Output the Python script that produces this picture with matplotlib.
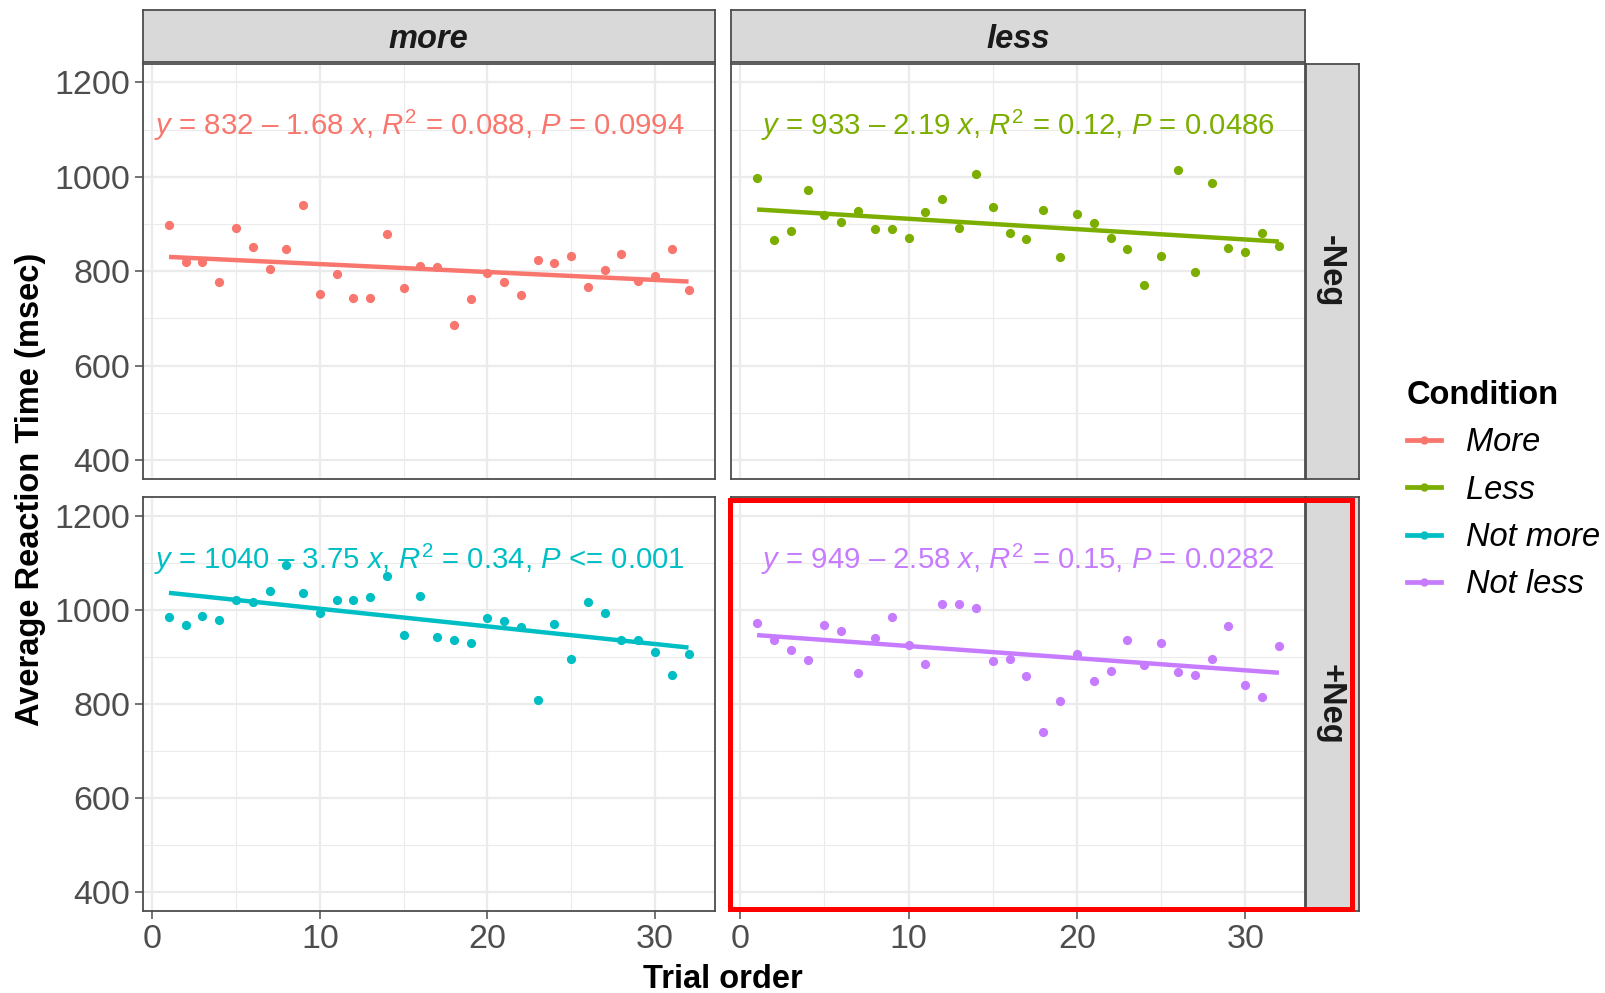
import numpy as np
import matplotlib
matplotlib.use("Agg")
import matplotlib.pyplot as plt
import matplotlib.transforms as mtransforms
from matplotlib.lines import Line2D
from matplotlib.patches import Rectangle

plt.rcParams['font.family'] = ['Liberation Sans', 'DejaVu Sans']
plt.rcParams['mathtext.fontset'] = 'custom'
plt.rcParams['mathtext.rm'] = 'Liberation Sans'
plt.rcParams['mathtext.it'] = 'Liberation Sans:italic'

# ---------------- data ----------------
trials = list(range(1, 33))
conditions = ["More", "Less", "Not more", "Not less"]
col_labels = ["more", "less"]
row_labels = ["-Neg", "+Neg"]
colors = ["#F8766D", "#7CAE00", "#00BFC4", "#C77CFF"]

rt_more = [897, 819, 819, 777, 892, 851, 805, 848, 940, 752, 794, 744, 744, 878, 764, 812,
           810, 687, 741, 796, 778, 749, 824, 817, 833, 766, 803, 837, 780, 790, 848, 761]
rt_less = [997, 866, 885, 973, 919, 904, 927, 889, 889, 870, 925, 952, 891, 1006, 937, 880,
           869, 929, 831, 922, 903, 871, 848, 770, 833, 1015, 799, 987, 850, 841, 882, 854]
rt_not_more = [984, 968, 986, 978, 1021, 1016, 1040, 1095, 1036, 993, 1022, 1022, 1027, 1072, 947, 1029,
               942, 937, 929, 982, 976, 963, 809, 970, 895, 1017, 994, 937, 937, 910, 861, 907]
rt_not_less = [972, 935, 914, 894, 968, 955, 865, 941, 985, 925, 886, 1012, 1013, 1005, 891, 895,
               860, 740, 806, 907, 849, 870, 937, 883, 930, 869, 862, 895, 966, 841, 815, 924]
series = [rt_more, rt_less, rt_not_more, rt_not_less]

intercepts = [832, 933, 1040, 949]
slopes = [-1.68, -2.19, -3.75, -2.58]
labels = [r"$y$ = 832 – 1.68 $x$, $R^2$ = 0.088, $P$ = 0.0994",
          r"$y$ = 933 – 2.19 $x$, $R^2$ = 0.12, $P$ = 0.0486",
          r"$y$ = 1040 – 3.75 $x$, $R^2$ = 0.34, $P$ <= 0.001",
          r"$y$ = 949 – 2.58 $x$, $R^2$ = 0.15, $P$ = 0.0282"]

x_ticks = [0, 10, 20, 30]
y_ticks = [400, 600, 800, 1000, 1200]

# ---------------- layout ----------------
W, H = 1605, 993
fig = plt.figure(figsize=(W / 100, H / 100), dpi=100)

def fx(px):
    return px / W

def fy(py):
    return 1 - py / H

col_x = [(143, 714.5), (731, 1305)]
row_y = [(63.5, 479), (497, 911)]

border_c = "#4D4D4D"
grid_c = "#EBEBEB"
tick_c = "#4D4D4D"
FS = 23.5

axes = []
for r in range(2):
    for c in range(2):
        k = r * 2 + c
        x0, x1 = col_x[c]
        y0, y1 = row_y[r]
        ax = fig.add_axes([fx(x0), fy(y1), fx(x1) - fx(x0), fy(y0) - fy(y1)])
        ax.set_xlim(-0.55, 33.55)
        ax.set_ylim(360, 1240)
        ax.set_xticks(x_ticks)
        ax.set_xticks([5, 15, 25], minor=True)
        ax.set_yticks(y_ticks)
        ax.set_yticks([500, 700, 900, 1100], minor=True)
        ax.grid(True, which="major", color=grid_c, lw=1.6, zorder=0)
        ax.grid(True, which="minor", color=grid_c, lw=0.8, zorder=0)
        ax.set_axisbelow(True)
        for s in ax.spines.values():
            s.set_color(border_c)
            s.set_linewidth(1.3)
        ax.tick_params(which="minor", length=0)
        ax.tick_params(which="major", length=6, width=1.1, color=tick_c,
                       labelsize=24.5, labelcolor=tick_c, pad=3)
        if c == 1:
            ax.tick_params(axis="y", labelleft=False, length=0)
        if r == 0:
            ax.tick_params(axis="x", labelbottom=False, length=0)

        xs = np.array(trials)
        ax.scatter(xs, series[k], s=44, color=colors[k], zorder=3, linewidths=0)
        xl = np.array([trials[0], trials[-1]])
        ax.plot(xl, intercepts[k] + slopes[k] * xl, color=colors[k], lw=3.2,
                zorder=4, solid_capstyle="butt")
        trans = mtransforms.blended_transform_factory(ax.transAxes, ax.transData)
        ax.text(0.484 if c == 0 else 0.5, 1108, labels[k], color=colors[k],
                fontsize=21.2, ha="center", va="center", transform=trans, zorder=5)
        axes.append(ax)

# column strips
for c in range(2):
    x0, x1 = col_x[c]
    sax = fig.add_axes([fx(x0), fy(61.5), fx(x1) - fx(x0), fy(10) - fy(61.5)])
    sax.set_facecolor("#D9D9D9")
    sax.set_xticks([]); sax.set_yticks([])
    for s in sax.spines.values():
        s.set_color(border_c); s.set_linewidth(1.3)
    sax.text(0.5, 0.42, col_labels[c], ha="center", va="center", fontsize=FS,
             fontweight="bold", fontstyle="italic", color="#1A1A1A",
             transform=sax.transAxes)

# row strips
for r in range(2):
    y0, y1 = row_y[r]
    sax = fig.add_axes([fx(1306), fy(y1), fx(1359) - fx(1306), fy(y0) - fy(y1)])
    sax.set_facecolor("#D9D9D9")
    sax.set_xticks([]); sax.set_yticks([])
    for s in sax.spines.values():
        s.set_color(border_c); s.set_linewidth(1.3)
    sax.text(0.45, 0.5, row_labels[r], ha="center", va="center", fontsize=FS,
             fontweight="bold", rotation=-90, color="#1A1A1A",
             transform=sax.transAxes)

# axis titles
fig.text(fx(31), fy(489), "Average Reaction Time (msec)", rotation=90,
         ha="center", va="center", fontsize=FS, fontweight="bold")
fig.text(fx(723), fy(979), "Trial order", ha="center", va="center",
         fontsize=FS, fontweight="bold")

# legend
handles = [Line2D([], [], color=colors[i], lw=3.4, marker="o", ms=5) for i in range(4)]
leg = fig.legend(handles, conditions, loc="upper left",
                 bbox_to_anchor=(fx(1407), fy(380)), frameon=False,
                 title="Condition", alignment="left", fontsize=FS,
                 handlelength=1.05, handletextpad=0.75, labelspacing=0.5,
                 borderaxespad=0, borderpad=0)
leg.get_title().set_fontweight("bold")
leg.get_title().set_fontsize(FS)
for t in leg.get_texts():
    t.set_fontstyle("italic")

# red highlight rectangle
fig.add_artist(Rectangle((fx(730), fy(909)), fx(1352) - fx(730), fy(500.5) - fy(909),
                         transform=fig.transFigure, fill=False, edgecolor="red",
                         lw=3.6, zorder=10))

fig.savefig("out.png", dpi=100)
